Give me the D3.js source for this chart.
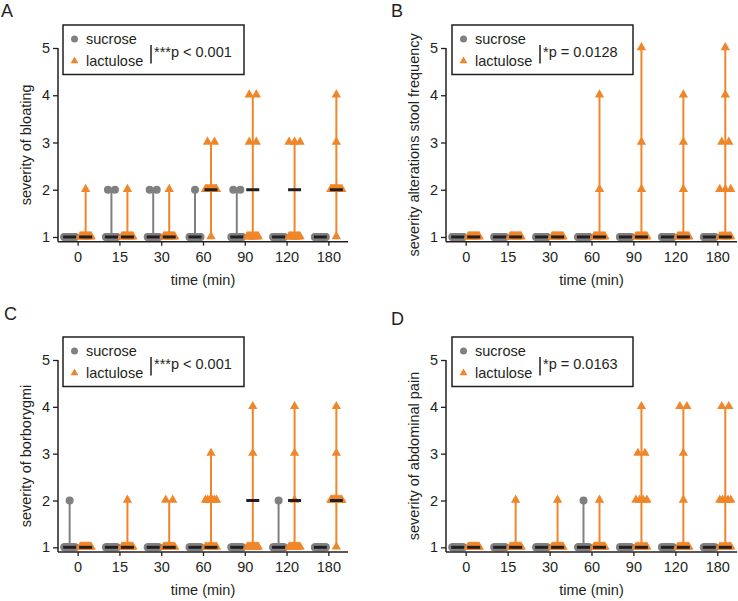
<!DOCTYPE html>
<html>
<head>
<meta charset="utf-8">
<script src="https://cdn.jsdelivr.net/npm/d3@7"></script>
<style>
  html, body { margin: 0; padding: 0; background: #ffffff; }
  svg { display: block; }
  text { font-family: "Liberation Sans", Arial, Helvetica, sans-serif; fill: #231f20; }
</style>
</head>
<body>
<svg id="chart" width="738" height="601"></svg>
<script>
// ---- Data (counts of participants at severity levels 1..5, per time point) ----
const times = ["0", "15", "30", "60", "90", "120", "180"];
const yTicks = [1, 2, 3, 4, 5];
const groups = ["sucrose", "lactulose"];

// A: bloating
const bloatingSucrose   = [[16,0,0,0,0],[14,2,0,0,0],[14,2,0,0,0],[15,1,0,0,0],[14,2,0,0,0],[16,0,0,0,0],[16,0,0,0,0]];
const bloatingLactulose = [[15,1,0,0,0],[15,1,0,0,0],[15,1,0,0,0],[1,13,2,0,0],[12,0,2,2,0],[13,0,3,0,0],[1,13,1,1,0]];
const bloatingSucroseMedian   = [1,1,1,1,1,1,1];
const bloatingLactuloseMedian = [1,1,1,2,2,2,2];

// B: stool frequency alterations
const stoolSucrose   = [[16,0,0,0,0],[16,0,0,0,0],[16,0,0,0,0],[16,0,0,0,0],[16,0,0,0,0],[16,0,0,0,0],[16,0,0,0,0]];
const stoolLactulose = [[16,0,0,0,0],[16,0,0,0,0],[16,0,0,0,0],[14,1,0,1,0],[13,1,1,0,1],[13,1,1,1,0],[9,3,2,1,1]];
const stoolSucroseMedian   = [1,1,1,1,1,1,1];
const stoolLactuloseMedian = [1,1,1,1,1,1,1];

// C: borborygmi
const borborygmiSucrose   = [[15,1,0,0,0],[16,0,0,0,0],[16,0,0,0,0],[16,0,0,0,0],[16,0,0,0,0],[15,1,0,0,0],[16,0,0,0,0]];
const borborygmiLactulose = [[16,0,0,0,0],[15,1,0,0,0],[14,2,0,0,0],[9,6,1,0,0],[14,0,1,1,0],[13,1,1,1,0],[1,13,1,1,0]];
const borborygmiSucroseMedian   = [1,1,1,1,1,1,1];
const borborygmiLactuloseMedian = [1,1,1,1,2,2,2];

// D: abdominal pain
const painSucrose   = [[16,0,0,0,0],[16,0,0,0,0],[16,0,0,0,0],[15,1,0,0,0],[16,0,0,0,0],[16,0,0,0,0],[16,0,0,0,0]];
const painLactulose = [[16,0,0,0,0],[15,1,0,0,0],[15,1,0,0,0],[15,1,0,0,0],[9,4,2,1,0],[12,1,1,2,0],[9,5,0,2,0]];
const painSucroseMedian   = [1,1,1,1,1,1,1];
const painLactuloseMedian = [1,1,1,1,1,1,1];

const panelLetters = ["A", "B", "C", "D"];
const yLabels = ["severity of bloating", "severity alterations stool frequency", "severity of borborygmi", "severity of abdominal pain"];
const pLabels = ["***p < 0.001", "*p = 0.0128", "***p < 0.001", "*p = 0.0163"];
const xLabel = "time (min)";

// ---- Styling / layout ----
const GRAY = "#808080", ORANGE = "#f0862a", BLACK = "#231f20";
const FONT = 14.5;
const svg = d3.select("#chart");

const layout = [
  { axisX: 58,  right: 348, top: 48,  bottom: 241.7, legX: 63,  letterX: 1,   letterY: 17 },
  { axisX: 446, right: 737, top: 48,  bottom: 241.7, legX: 452, letterX: 391, letterY: 17 },
  { axisX: 58,  right: 348, top: 360, bottom: 552,   legX: 63,  letterX: 4,   letterY: 320 },
  { axisX: 446, right: 737, top: 360, bottom: 552,   legX: 452, letterX: 391, letterY: 325 }
];

const panels = [
  { suc: bloatingSucrose, lac: bloatingLactulose, sucMed: bloatingSucroseMedian, lacMed: bloatingLactuloseMedian },
  { suc: stoolSucrose, lac: stoolLactulose, sucMed: stoolSucroseMedian, lacMed: stoolLactuloseMedian },
  { suc: borborygmiSucrose, lac: borborygmiLactulose, sucMed: borborygmiSucroseMedian, lacMed: borborygmiLactuloseMedian },
  { suc: painSucrose, lac: painLactulose, sucMed: painSucroseMedian, lacMed: painLactuloseMedian }
];

const triSym = d3.symbol().type(d3.symbolTriangle).size(38);
const triSymSmall = d3.symbol().type(d3.symbolTriangle).size(26);

function spreadPoints(counts) {
  // returns [{level, dx}] spreading tied points horizontally
  const pts = [];
  counts.forEach((c, i) => {
    if (!c) return;
    const s = c > 1 ? Math.min(7, 11 / (c - 1)) : 0;
    for (let k = 0; k < c; k++) pts.push({ level: i + 1, dx: (k - (c - 1) / 2) * s });
  });
  return pts;
}

panels.forEach((p, pi) => {
  const L = layout[pi];
  const g = svg.append("g");
  const x = d3.scalePoint().domain(times).range([L.axisX, L.right]).padding(0.47);
  const y = d3.scaleLinear().domain([0.9, 5]).range([L.bottom, L.top]);
  const off = { sucrose: -8, lactulose: 8 };

  // letter
  g.append("text").attr("x", L.letterX).attr("y", L.letterY)
    .attr("font-size", 18).text(panelLetters[pi]);

  // data
  const series = [
    { name: "sucrose", data: p.suc, med: p.sucMed, color: GRAY },
    { name: "lactulose", data: p.lac, med: p.lacMed, color: ORANGE }
  ];
  series.forEach(s => {
    const sg = g.append("g");
    s.data.forEach((counts, ti) => {
      const cx = x(times[ti]) + off[s.name];
      const levels = counts.map((c, i) => c ? i + 1 : null).filter(v => v !== null);
      const lo = d3.min(levels), hi = d3.max(levels);
      if (hi > lo) {
        sg.append("line").attr("x1", cx).attr("x2", cx)
          .attr("y1", y(lo)).attr("y2", y(hi))
          .attr("stroke", s.color).attr("stroke-width", 2);
      }
      spreadPoints(counts).forEach(pt => {
        if (s.name === "sucrose") {
          sg.append("circle").attr("cx", cx + pt.dx).attr("cy", y(pt.level))
            .attr("r", 4).attr("fill", s.color);
        } else {
          sg.append("path").attr("d", triSym)
            .attr("transform", `translate(${cx + pt.dx},${y(pt.level) - 0.5})`)
            .attr("fill", s.color);
        }
      });
    });
  });
  // medians on top
  series.forEach(s => {
    s.med.forEach((m, ti) => {
      const cx = x(times[ti]) + off[s.name];
      g.append("rect").attr("x", cx - 6.5).attr("y", y(m) - 1.5)
        .attr("width", 13).attr("height", 3).attr("fill", BLACK);
    });
  });

  // axes
  const yAxis = d3.axisLeft(y).tickValues(yTicks).tickFormat(d3.format("d")).tickSize(5).tickPadding(3);
  const ya = g.append("g").attr("transform", `translate(${L.axisX},0)`).call(yAxis);
  ya.select(".domain").attr("d", `M0,${y(5)}V${L.bottom}`);
  const xAxis = d3.axisBottom(x).tickSize(4).tickPadding(5);
  const xa = g.append("g").attr("transform", `translate(0,${L.bottom})`).call(xAxis);
  xa.select(".domain").attr("d", `M${L.axisX},0H${L.right}`);
  [ya, xa].forEach(a => {
    a.selectAll(".domain").attr("stroke", BLACK).attr("stroke-width", 1.5);
    a.selectAll(".tick line").attr("stroke", BLACK).attr("stroke-width", 1.3);
    a.selectAll("text").attr("font-size", FONT).attr("fill", BLACK)
      .attr("font-family", '"Liberation Sans", Arial, sans-serif');
  });
  xa.selectAll(".tick text").attr("dy", "0.71em").attr("y", 10);

  // axis titles
  g.append("text").attr("x", (L.axisX + L.right) / 2).attr("y", L.bottom + 43)
    .attr("text-anchor", "middle").attr("font-size", FONT).text(xLabel);
  g.append("text")
    .attr("transform", `translate(${L.axisX - 27},${(L.top + L.bottom) / 2}) rotate(-90)`)
    .attr("text-anchor", "middle").attr("font-size", FONT).text(yLabels[pi]);

  // legend
  const lt = L.top - 23;
  const lg = g.append("g").attr("transform", `translate(${L.legX},${lt})`);
  lg.append("rect").attr("x", 0).attr("y", 0).attr("width", 181).attr("height", 49.5)
    .attr("fill", "#fff").attr("stroke", BLACK).attr("stroke-width", 1.5);
  lg.append("circle").attr("cx", 11.5).attr("cy", 14).attr("r", 3.5).attr("fill", GRAY);
  lg.append("path").attr("d", triSymSmall).attr("transform", "translate(11.5,36)").attr("fill", ORANGE);
  lg.append("text").attr("x", 23).attr("y", 18.5).attr("font-size", FONT).text(groups[0]);
  lg.append("text").attr("x", 23).attr("y", 40.5).attr("font-size", FONT).text(groups[1]);
  lg.append("line").attr("x1", 88).attr("x2", 88).attr("y1", 20).attr("y2", 38.5)
    .attr("stroke", BLACK).attr("stroke-width", 1.5);
  lg.append("text").attr("x", 91).attr("y", 32).attr("font-size", FONT).text(pLabels[pi]);
});
</script>
</body>
</html>
